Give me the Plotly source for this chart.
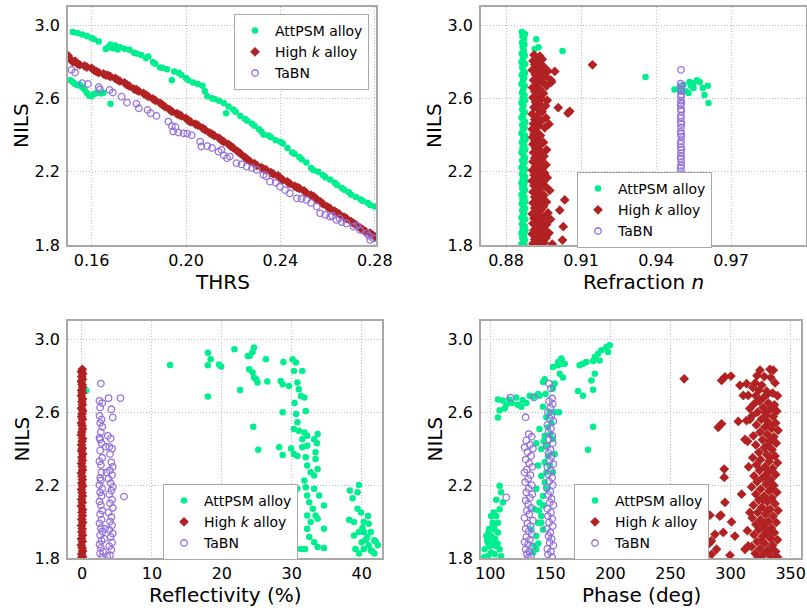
import plotly.graph_objects as go

# ---------------- data ----------------
names = ["AttPSM alloy", "High <i>k</i> alloy", "TaBN"]

# Panel 1: NILS vs THRS
p1_att_x = [0.152,0.154,0.156,0.158,0.160,0.161,0.163,0.166,0.167,0.168,0.169,0.170,0.171,0.172,0.174,0.176,0.178,0.179,
            0.181,0.183,0.184,0.186,0.187,0.189,0.190,0.192,0.194,0.195,0.197,0.198,0.200,0.201,0.203,0.205,0.207,0.208,
            0.209,0.211,0.212,0.214,0.216,0.217,0.218,0.220,0.221,0.223,0.225,0.226,0.228,0.229,0.231,0.232,0.233,0.235,
            0.236,0.238,0.240,0.241,0.243,0.245,0.246,0.248,0.249,0.251,0.253,0.254,0.256,0.258,0.259,0.261,0.263,0.264,
            0.266,0.267,0.269,0.270,0.272,0.274,0.275,0.277,0.278,0.280,
            0.151,0.152,0.153,0.154,0.155,0.156,0.157,0.158,0.159,0.160,0.161,0.162,0.164,0.165,0.168]
p1_att_y = [2.963,2.958,2.950,2.942,2.930,2.924,2.912,2.870,2.880,2.895,2.875,2.890,2.868,2.880,2.872,2.866,2.850,2.846,
            2.838,2.822,2.830,2.800,2.790,2.770,2.768,2.760,2.700,2.748,2.740,2.728,2.712,2.700,2.688,2.680,2.670,2.640,
            2.612,2.602,2.598,2.588,2.575,2.520,2.556,2.540,2.528,2.505,2.488,2.478,2.462,2.452,2.432,2.418,2.402,2.398,
            2.388,2.372,2.364,2.355,2.330,2.305,2.298,2.280,2.268,2.250,2.220,2.208,2.200,2.182,2.170,2.158,2.140,2.128,
            2.112,2.102,2.088,2.075,2.062,2.048,2.040,2.030,2.018,2.010,
            2.700,2.690,2.680,2.672,2.676,2.662,2.650,2.630,2.615,2.612,2.625,2.630,2.628,2.632,2.572]

p1_hk_x = [0.150,0.151,0.152,0.153,0.154,0.155,0.157,0.158,0.160,0.161,0.162,0.163,0.165,0.166,0.167,0.168,0.170,0.171,
           0.172,0.174,0.175,0.176,0.178,0.179,0.180,0.182,0.183,0.184,0.186,0.187,0.189,0.190,0.191,0.193,0.194,0.196,
           0.197,0.198,0.200,0.201,0.202,0.204,0.205,0.207,0.208,0.210,0.211,0.212,0.214,0.215,0.216,0.218,0.219,0.220,
           0.222,0.223,0.225,0.226,0.227,0.229,0.230,0.232,0.233,0.234,0.236,0.237,0.239,0.240,0.241,0.243,0.244,0.246,
           0.247,0.248,0.250,0.251,0.253,0.254,0.255,0.257,0.258,0.260,0.261,0.263,0.264,0.265,0.267,0.268,0.270,0.271,
           0.272,0.274,0.275,0.276,0.278,0.279,0.280]
p1_hk_y = [2.835,2.815,2.800,2.805,2.790,2.784,2.778,2.772,2.766,2.755,2.748,2.742,2.735,2.728,2.726,2.720,2.710,2.702,
           2.695,2.686,2.675,2.668,2.652,2.648,2.640,2.628,2.620,2.612,2.598,2.590,2.575,2.566,2.556,2.540,2.530,2.518,
           2.512,2.505,2.492,2.480,2.472,2.460,2.455,2.438,2.430,2.412,2.405,2.398,2.384,2.372,2.365,2.350,2.340,2.330,
           2.310,2.300,2.278,2.268,2.258,2.245,2.235,2.222,2.215,2.210,2.195,2.188,2.178,2.165,2.156,2.145,2.135,2.122,
           2.115,2.110,2.095,2.085,2.072,2.065,2.055,2.036,2.025,2.008,2.000,1.985,1.975,1.968,1.952,1.945,1.928,1.918,
           1.910,1.892,1.882,1.875,1.865,1.855,1.845]

p1_tabn_x = [0.1515,0.153,0.156,0.1585,0.163,0.1635,0.1676,0.169,0.1727,0.175,0.179,0.180,0.1837,0.185,0.1875,0.1925,
             0.194,0.1946,0.1955,0.1967,0.199,0.2005,0.2024,0.206,0.2065,0.209,0.211,0.2138,0.215,0.216,0.2174,0.2186,
             0.2214,0.2235,0.2257,0.228,0.230,0.2328,0.234,0.2356,0.238,0.2398,0.242,0.244,0.247,0.249,0.251,0.253,
             0.2554,0.2568,0.259,0.261,0.2638,0.266,0.268,0.271,0.2738,0.2766,0.278,0.2795,0.2775,0.2725,0.265,0.262]
p1_tabn_y = [2.757,2.742,2.684,2.680,2.662,2.650,2.647,2.633,2.610,2.578,2.571,2.547,2.538,2.520,2.505,2.474,
             2.450,2.420,2.445,2.414,2.410,2.408,2.400,2.365,2.338,2.340,2.330,2.310,2.320,2.290,2.274,2.283,
             2.247,2.240,2.228,2.220,2.210,2.183,2.175,2.146,2.140,2.119,2.100,2.082,2.055,2.052,2.046,2.030,
             2.010,1.973,1.965,1.955,1.937,1.925,1.918,1.900,1.882,1.864,1.827,1.836,1.850,1.905,1.945,1.960]

# Panel 2: NILS vs refraction n
p2_att_x = [0.8863,0.8876,0.8921,0.8866,0.8872,0.8864,0.8874,0.8930,0.8915,0.9026,0.8867,0.8871,0.8863,0.8875,0.8869,
            0.8862,0.8877,0.8865,0.8870,0.8876,0.8863,0.8873,0.8868,0.8947,0.8862,0.8875,0.8869,0.8864,0.8874,0.8866,
            0.8877,0.8862,0.8870,0.8865,0.8875,0.8868,0.8862,0.8872,0.8877,0.8865,0.8874,0.8867,0.8862,0.8876,0.8869,
            0.8878,0.8864,0.8873,0.8866,0.8877,0.8862,0.8870,0.8876,0.8865,0.8874,0.8868,0.8862,0.8877,0.8870,0.8864,
            0.8875,0.8867,0.8878,0.8862,0.8872,0.8865,0.8876,0.8869,0.8862,0.8874,0.8866,0.8877,0.8863,0.8870,0.8876,
            0.8865,0.8873,0.8868,0.8862,0.8877,0.8869,0.8864,0.8875,0.8867,0.8878,0.8862,0.8872,0.8865,0.8876,0.8869,
            0.8862,0.8874,
            0.9358,0.9474,0.9494,0.9510,0.9534,0.9550,0.9564,0.9587,0.9607,0.9594,0.9610,0.9520,0.9550,0.9540,0.9575,
            0.9500,0.9530]
p2_att_y = [2.963,2.952,2.924,2.940,2.925,2.905,2.895,2.880,2.870,2.860,2.880,2.862,2.845,2.835,2.820,
            2.800,2.788,2.770,2.752,2.740,2.728,2.712,2.700,2.690,2.680,2.668,2.650,2.632,2.618,2.600,
            2.592,2.575,2.560,2.540,2.525,2.510,2.495,2.480,2.470,2.455,2.440,2.425,2.410,2.398,2.385,
            2.375,2.360,2.345,2.330,2.320,2.305,2.290,2.275,2.262,2.250,2.235,2.222,2.212,2.200,2.188,
            2.175,2.162,2.150,2.138,2.125,2.112,2.100,2.088,2.075,2.062,2.050,2.038,2.025,2.012,2.000,
            1.988,1.975,1.962,1.950,1.940,1.928,1.915,1.902,1.890,1.878,1.865,1.852,1.840,1.828,1.815,
            1.805,1.802,
            2.717,2.650,2.660,2.675,2.690,2.657,2.700,2.657,2.670,2.620,2.575,2.640,2.684,2.670,2.690,
            2.640,2.630]

p2_hk_x = [0.8912,0.8935,0.8920,0.8945,0.8908,0.8930,0.8915,0.8950,0.8925,0.8968,0.8905,0.8940,0.8995,0.8918,0.8958,
           0.8930,0.8980,0.8910,0.8945,0.8982,0.8922,0.8962,0.8906,0.8935,0.8915,0.8950,0.8928,0.8908,0.8942,0.8965,
           0.8918,0.8935,0.9009,0.8958,0.8912,0.8930,0.9055,0.9048,0.8945,0.8905,0.8925,0.8960,0.8915,0.8940,0.8972,
           0.8910,0.8930,0.8955,0.8905,0.8922,0.8912,0.8938,0.8906,0.8925,0.8915,0.8950,0.8908,0.8932,0.8918,0.8962,
           0.8940,0.8910,0.8928,0.8952,0.8915,0.8942,0.8908,0.8932,0.8960,0.8918,0.8945,0.8906,0.8925,0.8955,0.8912,
           0.8938,0.8965,0.8920,0.8905,0.8948,0.8930,0.8912,0.8958,0.8940,0.8920,0.8975,0.8908,0.8935,0.8952,0.8915,
           0.8942,0.9035,0.8925,0.8962,0.8908,0.8932,0.8950,0.8915,0.9015,0.8940,0.8922,0.8968,0.8905,0.8935,0.8952,
           0.8912,0.8978,0.8928,0.8945,0.8908,0.8962,0.8920,0.9029,0.8938,0.8955,0.8912,0.8930,0.8972,0.8905,0.8945,
           0.8922,0.8960,0.8915,0.9026,0.8938,0.8952,0.8908,0.8928,0.8985,0.9146]
p2_hk_y = [2.838,2.832,2.820,2.815,2.805,2.798,2.785,2.775,2.768,2.750,2.755,2.742,2.748,2.730,2.722,
           2.712,2.700,2.700,2.690,2.690,2.678,2.668,2.660,2.650,2.638,2.628,2.615,2.605,2.598,2.590,
           2.580,2.570,2.550,2.560,2.552,2.540,2.530,2.520,2.528,2.515,2.505,2.495,2.485,2.475,2.460,
           2.462,2.450,2.440,2.432,2.420,2.405,2.398,2.388,2.378,2.365,2.360,2.350,2.340,2.328,2.320,
           2.310,2.305,2.292,2.285,2.275,2.265,2.255,2.245,2.238,2.228,2.218,2.208,2.198,2.192,2.182,
           2.172,2.168,2.160,2.150,2.145,2.135,2.125,2.120,2.110,2.100,2.098,2.090,2.082,2.072,2.062,
           2.055,2.046,2.045,2.035,2.030,2.020,2.010,2.002,1.990,1.992,1.982,1.975,1.970,1.962,1.952,
           1.945,1.940,1.935,1.925,1.918,1.912,1.905,1.900,1.895,1.885,1.880,1.870,1.865,1.860,1.852,
           1.842,1.838,1.830,1.827,1.822,1.812,1.808,1.803,1.805,2.784]

p2_tabn_x = [0.9500,0.9499,0.9501,0.9500,0.9499,0.9501,0.9500,0.9500,0.9501,0.9499,0.9500,0.9501,0.9500,0.9499,
             0.9500,0.9501,0.9500,0.9499,0.9500,0.9501,0.9500,0.9499,0.9500,0.9501,0.9500,0.9500,0.9499,0.9501,
             0.9500,0.9499,0.9500,0.9501,0.9500,0.9499,0.9500,0.9501,0.9500,0.9500,0.9499,0.9501,0.9500,0.9499,
             0.9500,0.9501,0.9500,0.9499,0.9500,0.9501,0.9500,0.9500,0.9499,0.9501,0.9500,0.9499,0.9500]
p2_tabn_y = [2.757,2.682,2.668,2.652,2.641,2.622,2.611,2.588,2.574,2.563,2.541,2.532,2.508,2.493,
             2.472,2.461,2.443,2.418,2.407,2.392,2.368,2.352,2.333,2.321,2.302,2.283,2.271,2.252,
             2.233,2.221,2.203,2.182,2.171,2.152,2.133,2.122,2.101,2.083,2.072,2.052,2.033,2.021,
             2.002,1.983,1.972,1.951,1.933,1.922,1.902,1.883,1.871,1.852,1.833,1.822,1.806]

# Panel 3: NILS vs reflectivity (%)
p3_att_x = [12.6,18.0,18.4,18.0,19.6,19.9,18.0,21.8,23.7,24.0,24.6,24.4,23.9,24.4,24.9,25.1,24.6,26.3,26.5,22.6,
            28.8,30.1,30.6,31.5,30.3,28.4,28.7,29.6,30.8,31.0,31.3,31.8,32.0,30.4,28.7,30.6,30.8,30.3,31.0,31.8,
            32.2,31.5,33.7,33.6,33.2,24.5,25.2,28.2,28.7,29.9,30.3,30.8,31.5,32.2,32.0,33.4,33.4,32.2,32.7,33.2,
            33.7,31.8,32.0,32.2,33.2,33.9,32.5,33.0,33.4,32.2,32.7,33.7,34.6,30.8,30.3,32.2,32.5,33.2,33.7,34.6,
            31.3,31.9,34.6,38.3,38.7,39.6,39.4,38.2,39.4,39.9,38.9,40.3,41.0,38.9,39.6,40.3,41.3,40.8,41.8,42.3,
            40.0,39.1,40.3,41.3,41.8,39.6,41.0,40.6,40.1,42.0,40.9,41.5,0.6]
p3_att_y = [2.859,2.926,2.890,2.857,2.862,2.850,2.686,2.945,2.908,2.910,2.954,2.930,2.835,2.817,2.780,2.762,2.790,2.890,2.768,2.722,
            2.875,2.890,2.872,2.826,2.826,2.771,2.753,2.744,2.762,2.726,2.689,2.680,2.607,2.650,2.600,2.590,2.544,2.507,2.498,2.489,
            2.470,2.452,2.480,2.430,2.452,2.520,2.394,2.407,2.365,2.400,2.370,2.360,2.407,2.416,2.352,2.380,2.343,2.307,2.270,2.252,
            2.288,2.225,2.188,2.143,2.180,2.143,2.106,2.070,2.033,2.033,1.997,2.015,2.088,2.180,2.040,1.960,1.915,1.887,1.860,1.855,
            1.850,1.850,1.960,2.170,2.128,2.200,2.160,2.010,2.070,2.050,1.997,1.997,1.988,1.924,1.942,1.942,1.942,1.915,1.897,1.870,
            1.887,1.850,1.850,1.842,1.824,1.824,1.870,1.900,1.965,1.890,2.030,1.835,2.717]

p3_hk_x = [0.05,-0.08,0.10,-0.03,0.07,-0.10,0.02,0.09,-0.06,0.04,-0.09,0.08,-0.02,0.06,-0.07,0.10,0.00,-0.05,0.08,-0.09,
           0.03,0.07,-0.04,-0.10,0.09,0.01,-0.06,0.05,-0.08,0.10,-0.02,0.06,-0.07,0.03,0.08,-0.09,0.00,0.05,-0.04,0.09,
           -0.08,0.02,0.07,-0.06,0.04,-0.10,0.08,-0.01,0.06,-0.05,0.10,-0.08,0.03,
           -0.03,0.08,-0.07,0.05,-0.10,0.02,0.09,-0.05,0.06,-0.01]
p3_hk_y = [2.835,2.822,2.810,2.795,2.781,2.768,2.752,2.738,2.720,2.706,2.690,2.672,2.657,2.641,2.622,2.608,2.590,2.575,2.561,2.540,
           2.526,2.508,2.490,2.474,2.455,2.440,2.421,2.402,2.388,2.370,2.353,2.336,2.318,2.300,2.283,2.266,2.248,2.230,2.211,2.195,
           2.176,2.158,2.140,2.121,2.104,2.085,2.066,2.050,2.032,2.012,1.995,1.978,1.960,
           1.942,1.925,1.906,1.890,1.871,1.855,1.838,1.822,1.808,1.802]

p3_tabn_x = [2.7,2.5,2.9,2.6,3.8,5.5,4.2,4.4,2.5,2.8,2.6,2.9,3.7,4.1,2.7,2.5,3.4,3.9,4.3,2.8,2.6,4.0,2.9,2.5,4.2,4.4,
             2.7,4.0,2.8,4.3,2.6,3.8,2.7,4.1,2.5,6.0,4.4,2.9,4.2,2.6,3.9,2.8,4.3,2.5,4.0,2.7,4.4,2.9,3.8,2.6,4.2,2.8,
             4.0,2.5,4.3,2.7,3.9,2.9,4.4,2.6,4.1,3.2,2.8,4.3,2.5,3.9,2.7,4.2,3.0,2.6,4.0,2.9,3.6,3.3,3.5,2.6]
p3_tabn_y = [2.757,2.662,2.650,2.626,2.677,2.677,2.616,2.571,2.580,2.560,2.540,2.520,2.470,2.455,2.490,2.460,2.410,2.410,
             2.400,2.430,2.390,2.370,2.350,2.330,2.325,2.300,2.310,2.280,2.270,2.255,2.240,2.235,2.225,2.210,2.200,2.137,
             2.190,2.180,2.170,2.160,2.150,2.140,2.120,2.110,2.100,2.090,2.075,2.060,2.050,2.040,2.025,2.010,2.000,1.990,
             1.980,1.965,1.955,1.945,1.935,1.925,1.915,1.905,1.895,1.885,1.875,1.865,1.855,1.845,1.835,1.825,1.815,1.805,
             1.808,1.960,2.270,2.450]

# Panel 4: NILS vs phase (deg)
p4_att_x = [95.3,98.0,100.8,103.6,99.4,102.0,105.0,96.7,106.4,102.0,105.0,107.8,100.8,105.0,109.0,107.8,100.8,98.0,
            103.6,107.8,95.0,109.0,99.0,103.0,106.4,110.5,97.5,104.0,101.5,106.0,103.0,98.5,
            106.4,110.5,106.4,107.8,113.3,116.0,121.7,123.0,125.8,130.0,132.8,139.7,141.0,143.9,152.2,153.6,145.3,144.0,
            152.2,156.4,159.2,160.5,157.8,160.5,157.2,118.0,127.0,136.0,146.0,112.0,
            135.6,136.9,138.3,134.2,139.7,142.5,136.9,141.0,143.9,138.3,145.3,142.5,146.7,139.7,145.3,148.0,142.5,138.3,
            146.7,152.2,145.3,141.0,148.0,146.7,149.4,149.4,153.6,152.2,143.9,142.5,138.3,140.0,144.0,147.0,150.0,151.0,
            144.5,140.5,
            173.0,177.2,184.2,187.0,185.6,177.2,180.0,187.0,189.7,192.5,196.7,199.4,198.0,191.0,185.6,174.4,153.6,185.6,
            181.4,159.2,156.4,162.0]
p4_att_y = [1.848,1.884,1.920,1.957,1.866,1.900,1.866,1.920,1.940,1.994,2.030,2.068,2.030,2.120,2.160,2.196,1.830,1.810,
            1.820,1.848,1.805,1.810,1.960,1.975,1.994,2.105,1.895,1.905,1.870,1.880,2.050,1.940,
            2.670,2.664,2.570,2.610,2.640,2.670,2.680,2.640,2.630,2.650,2.690,2.700,2.690,2.630,2.730,2.757,2.780,2.766,
            2.848,2.875,2.894,2.866,2.810,2.790,2.600,2.650,2.665,2.685,2.700,2.620,
            1.830,1.866,1.920,1.957,1.994,2.030,2.068,2.105,2.140,2.180,2.215,2.250,2.270,2.307,2.325,2.360,2.398,2.430,
            2.416,2.453,2.470,2.508,2.517,2.572,2.600,2.307,2.370,2.270,1.957,1.994,1.848,1.880,2.090,2.180,2.480,2.540,
            2.440,2.060,
            2.716,2.690,2.774,2.810,2.723,2.866,2.875,2.903,2.920,2.940,2.958,2.967,2.930,2.884,2.880,2.857,2.600,2.520,
            2.394,2.884,2.857,2.866]

p4_hk_x = [324.5,332.8,335.6,322.0,328.0,333.5,320.5,326.0,337.0,318.5,323.5,330.0,335.0,321.0,327.5,339.0,324.0,331.5,
           336.5,319.5,327.0,333.0,338.5,322.5,329.5,335.5,318.0,325.5,331.0,337.5,321.5,328.5,334.0,339.5,324.5,330.5,
           336.0,319.0,326.5,332.5,338.0,321.0,328.0,334.5,323.5,330.0,337.0,318.5,325.0,332.0,339.0,321.5,328.5,335.0,
           324.0,331.0,337.5,319.5,326.5,333.5,322.0,329.5,336.0,317.5,325.0,332.0,338.5,321.0,328.0,334.5,323.5,330.5,
           337.0,319.0,326.0,333.0,339.5,322.5,329.0,335.5,318.0,325.0,331.5,338.0,321.0,327.5,334.0,323.5,330.0,336.5,
           319.5,326.5,333.0,339.0,322.0,328.5,335.0,317.5,324.5,331.0,337.5,320.5,327.0,333.5,339.0,323.0,329.5,334.0,
           326.0,332.0,328.0,330.5,327.0,334.0,329.0,333.0,331.0,333.0,329.0,331.0,
           261.4,292.5,295.3,300.3,307.8,310.6,314.7,313.3,306.4,289.7,292.5,313.3,316.1,314.2,294.7,294.7,309.2,295.3,
           282.8,292.0,300.8,287.0,293.9,282.8,303.6,299.5,288.3,312.0,314.7,284.2,249.4,252.0,275.8,281.4,284.0,291.0,
           312.0,316.0,315.0,316.0,314.0,254.4]
p4_hk_y = [2.830,2.835,2.830,2.800,2.795,2.790,2.760,2.748,2.760,2.735,2.720,2.715,2.705,2.690,2.680,2.690,2.660,2.650,
           2.640,2.645,2.625,2.615,2.605,2.600,2.585,2.575,2.580,2.560,2.548,2.540,2.530,2.518,2.510,2.500,2.490,2.478,
           2.465,2.470,2.448,2.440,2.430,2.420,2.405,2.395,2.380,2.368,2.360,2.350,2.340,2.330,2.322,2.312,2.300,2.292,
           2.280,2.268,2.258,2.250,2.240,2.230,2.218,2.205,2.198,2.190,2.178,2.168,2.160,2.150,2.140,2.130,2.118,2.108,
           2.098,2.090,2.078,2.068,2.060,2.050,2.040,2.030,2.020,2.010,2.002,1.995,1.985,1.975,1.965,1.955,1.945,1.938,
           1.928,1.918,1.908,1.900,1.890,1.880,1.870,1.862,1.852,1.842,1.835,1.825,1.815,1.808,1.805,1.803,1.830,1.850,
           1.895,1.930,1.990,2.060,2.120,2.180,2.250,2.350,2.420,2.530,2.600,2.700,
           2.783,2.774,2.793,2.798,2.747,2.692,2.692,2.756,2.549,2.517,2.536,2.554,2.560,2.440,2.288,2.242,2.150,2.105,
           2.035,2.035,1.998,1.930,1.940,1.884,1.920,1.815,1.848,1.848,1.866,1.820,1.811,1.800,1.800,1.875,1.894,2.030,
           2.450,2.620,2.300,2.050,1.950,1.857]

p4_tabn_x = [132.0,134.5,130.0,133.0,128.6,135.5,131.0,134.0,129.5,132.5,135.0,130.5,128.5,133.5,131.5,129.0,134.5,132.0,
             130.0,135.0,133.0,129.5,131.5,134.0,130.5,132.5,128.5,135.5,131.0,133.5,129.5,132.0,134.5,130.0,133.0,128.5,
             131.5,135.0,129.5,132.5,130.5,134.0,131.5,136.4,129.4,116.7,113.3,
             148.9,150.5,151.5,149.0,152.0,150.0,148.0,151.0,149.5,152.5,147.5,150.5,148.5,151.5,149.0,152.0,147.0,150.0,
             148.5,151.0,149.5,152.5,147.5,150.5,148.0,151.5,149.0,152.0,147.0,150.0,148.5,151.0,149.5,152.5,147.5,150.5,
             148.0,151.5,149.0,152.0,147.0,150.0,148.5,151.0,149.5,152.5,147.5,150.5,148.0,151.5]
p4_tabn_y = [2.480,2.465,2.445,2.420,2.407,2.400,2.380,2.360,2.340,2.320,2.300,2.285,2.270,2.255,2.235,2.215,2.200,2.180,
             2.160,2.150,2.130,2.115,2.095,2.075,2.060,2.040,2.020,2.005,1.990,1.975,1.960,1.945,1.930,1.915,1.900,1.888,
             1.875,1.862,1.848,1.835,1.822,1.812,1.802,2.680,2.572,2.680,2.132,
             2.757,2.730,2.675,2.660,2.645,2.625,2.600,2.585,2.565,2.550,2.530,2.510,2.490,2.470,2.450,2.430,2.415,2.395,
             2.375,2.355,2.335,2.315,2.300,2.280,2.260,2.240,2.220,2.200,2.185,2.165,2.145,2.125,2.105,2.090,2.070,2.050,
             2.030,2.015,1.995,1.975,1.960,1.940,1.920,1.905,1.885,1.868,1.850,1.835,1.820,1.805]

panels = [
    (p1_att_x, p1_att_y, p1_hk_x, p1_hk_y, p1_tabn_x, p1_tabn_y),
    (p2_att_x, p2_att_y, p2_hk_x, p2_hk_y, p2_tabn_x, p2_tabn_y),
    (p3_att_x, p3_att_y, p3_hk_x, p3_hk_y, p3_tabn_x, p3_tabn_y),
    (p4_att_x, p4_att_y, p4_hk_x, p4_hk_y, p4_tabn_x, p4_tabn_y),
]
x_titles = ["THRS", "Refraction <i>n</i>", "Reflectivity (%)", "Phase (deg)"]
x_ranges = [[0.15, 0.2805], [0.87, 1.0], [-2.0, 42.9], [92.3, 358.6]]
x_ticks = [[0.16, 0.20, 0.24, 0.28], [0.88, 0.91, 0.94, 0.97], [0, 10, 20, 30, 40], [100, 150, 200, 250, 300, 350]]
x_fmt = [".2f", ".2f", "d", "d"]
y_ticks = [1.8, 2.2, 2.6, 3.0]
y_range = [1.8, 3.1]

# ---------------- layout geometry (pixels) ----------------
W, H = 807, 608
boxes = [(68, 376, 7, 245), (481, 806, 7, 245), (68, 382, 321, 558), (481, 801, 321, 558)]
legend_pos = [(234, 14), (577, 172), (163, 484), (574, 484)]

GREEN = "#00EE8E"
RED = "#B22222"
PURPLE = "#9370DB"
FONT = "DejaVu Sans"

fig = go.Figure()
layout = dict(width=W, height=H, margin=dict(l=0, r=0, t=0, b=0, autoexpand=False),
              paper_bgcolor="white", plot_bgcolor="white",
              font=dict(family=FONT, size=16, color="black"), annotations=[])

for i, (ax, ay, hx, hy, tx, ty) in enumerate(panels):
    n = i + 1
    xa = "x" if n == 1 else f"x{n}"
    ya = "y" if n == 1 else f"y{n}"
    lg = "legend" if n == 1 else f"legend{n}"
    fig.add_trace(go.Scatter(x=ax, y=ay, xaxis=xa, yaxis=ya, mode="markers", name=names[0], legend=lg,
                             marker=dict(symbol="circle", size=6.5, color=GREEN, line=dict(width=0))))
    fig.add_trace(go.Scatter(x=hx, y=hy, xaxis=xa, yaxis=ya, mode="markers", name=names[1], legend=lg,
                             marker=dict(symbol="diamond", size=7.5, color=RED, line=dict(width=0))))
    fig.add_trace(go.Scatter(x=tx, y=ty, xaxis=xa, yaxis=ya, mode="markers", name=names[2], legend=lg,
                             marker=dict(symbol="circle-open", size=6.5, color=PURPLE,
                                         line=dict(width=1.3, color=PURPLE))))

    l, r, t, b = boxes[i]
    axis_common = dict(showline=True, linecolor="#a8a8a8", linewidth=1.5, mirror=True, ticks="",
                       showgrid=True, gridcolor="#bdbdbd", griddash="1px,2px", gridwidth=1, zeroline=False,
                       automargin=False, ticklabeloverflow="allow",
                       tickfont=dict(family=FONT, size=16, color="black"))
    xkey = "xaxis" if n == 1 else f"xaxis{n}"
    ykey = "yaxis" if n == 1 else f"yaxis{n}"
    layout[xkey] = dict(axis_common, domain=[l / W, r / W], anchor=ya, range=x_ranges[i],
                        tickvals=x_ticks[i], tickformat=x_fmt[i])
    layout[ykey] = dict(axis_common, domain=[1 - b / H, 1 - t / H], anchor=xa, range=y_range,
                        tickvals=y_ticks, tickformat=".1f", ticklabelstandoff=3)
    lx, ly = legend_pos[i]
    layout[lg] = dict(x=lx / W, y=1 - ly / H, xanchor="left", yanchor="top", bgcolor="white",
                      bordercolor="#a8a8a8", borderwidth=1, font=dict(family=FONT, size=14, color="black"),
                      tracegroupgap=0, itemwidth=30)
    # axis titles
    layout["annotations"].append(dict(text=x_titles[i], xref="paper", yref="paper", x=(l + r) / 2 / W,
                                      y=1 - (b + 37) / H, xanchor="center", yanchor="middle", showarrow=False,
                                      font=dict(family=FONT, size=20, color="black")))
    layout["annotations"].append(dict(text="NILS", xref="paper", yref="paper", x=(l - 47) / W,
                                      y=1 - (t + b) / 2 / H, xanchor="center", yanchor="middle", showarrow=False,
                                      textangle=-90, font=dict(family=FONT, size=20, color="black")))

fig.update_layout(**layout)
fig.write_html("out.html")
